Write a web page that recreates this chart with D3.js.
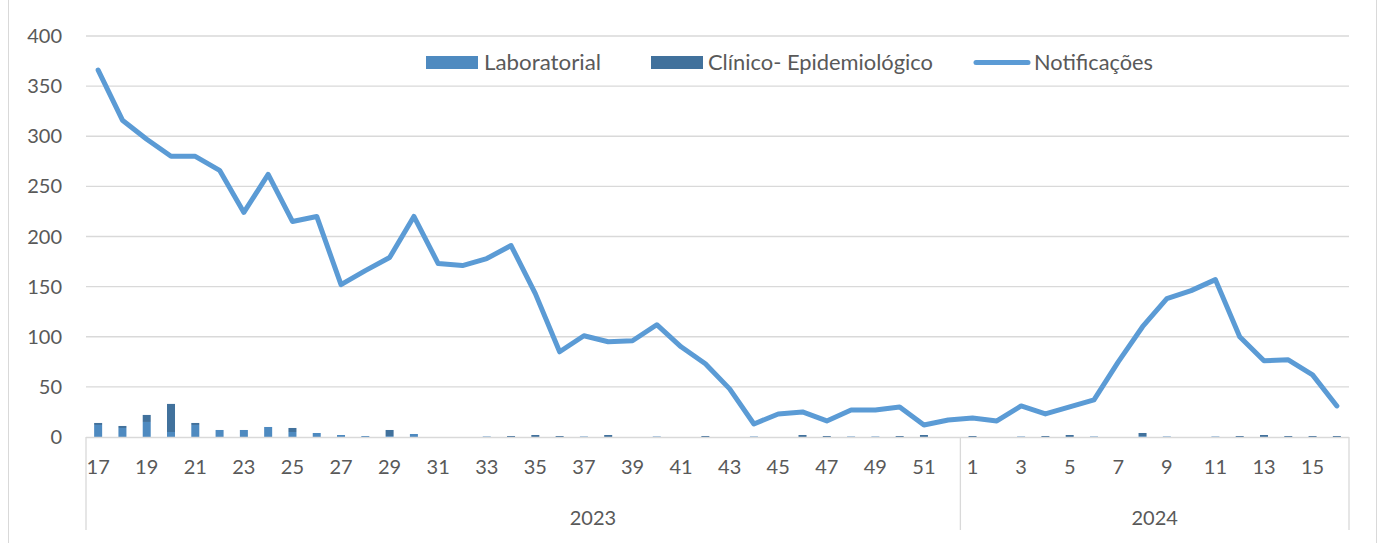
<!DOCTYPE html>
<html><head><meta charset="utf-8">
<script src="https://cdn.jsdelivr.net/npm/d3@7/dist/d3.min.js"></script>
<style>
html,body{margin:0;padding:0;background:#fff;}
svg text{font-family:Lato,"Open Sans",sans-serif;fill:#595959;}
</style></head>
<body>
<svg id="c" width="1379" height="543"></svg>
<script>
// ---- data ----
const weeks2023 = [17,18,19,20,21,22,23,24,25,26,27,28,29,30,31,32,33,34,35,36,37,38,39,40,41,42,43,44,45,46,47,48,49,50,51,52];
const weeks2024 = [1,2,3,4,5,6,7,8,9,10,11,12,13,14,15,16];
const years = ["2023","2024"];
const notificacoes = [366,316,297,280,280,266,224,262,215,220,152,166,179,220,173,171,178,191,143,85,101,95,96,112,90,73,48,13,23,25,16,27,27,30,12,17,
                      19,16,31,23,30,37,75,110,138,146,157,100,76,77,62,31];
const laboratorial = [12,9,15,5,12,7,7,10,5,4,2,1,1,3,0,0,0.5,0,0,0,0.5,0,0,0.5,0,0,0,0.5,0,0,0,0.5,0.5,0,0,0,
                      0,0,0.5,0,0,0.5,0,1,0.5,0,0.5,0,0,0,0,0];
const clinico = [2,2,7,28,2,0,0,0,4,0,0,0,6,0,0,0,0,1,2,1,0,2,0,0,0,1,0,0,0,2,1,0,0,1,2,0,
                 1,0,0,1,2,0,0,3,0,0,0,1,2,1,1,1];
const yTicks = [0,50,100,150,200,250,300,350,400];
const seriesNames = ["Laboratorial","Clínico- Epidemiológico","Notificações"];

// ---- build categories ----
const cats = [];
weeks2023.forEach(w => cats.push({year:"2023", week:w, key:"2023-"+w}));
weeks2024.forEach(w => cats.push({year:"2024", week:w, key:"2024-"+w}));
cats.forEach((c,i) => { c.lab = laboratorial[i]; c.cli = clinico[i]; c.not = notificacoes[i]; });

const svg = d3.select("#c");
const L = 86, R = 1349, T = 36, B = 437;
const x = d3.scaleBand().domain(cats.map(c=>c.key)).range([L,R]).padding(0);
const y = d3.scaleLinear().domain([0,400]).range([B,T]);
const bw = x.bandwidth();

// chart border (left/right)
svg.append("line").attr("x1",8.5).attr("x2",8.5).attr("y1",0).attr("y2",543).attr("stroke","#d9d9d9").attr("stroke-width",1);
svg.append("line").attr("x1",1376.5).attr("x2",1376.5).attr("y1",0).attr("y2",543).attr("stroke","#d9d9d9").attr("stroke-width",1);

// gridlines
svg.append("g").selectAll("line").data(yTicks.filter(d=>d>0)).join("line")
  .attr("x1",L).attr("x2",R).attr("y1",d=>y(d)).attr("y2",d=>y(d))
  .attr("stroke","#d9d9d9").attr("stroke-width",1.3);

// y axis labels
svg.append("g").selectAll("text").data(yTicks).join("text")
  .attr("x",62).attr("y",d=>y(d)).attr("dy","0.35em").attr("text-anchor","end")
  .style("font-size","20px").text(d=>d);

// bars (stacked)
const barW = 8;
const stack = d3.stack().keys(["lab","cli"])(cats);
const colors = {lab:"#4E8AC0", cli:"#41719C"};
svg.append("g").selectAll("g").data(stack).join("g")
  .attr("fill",s=>colors[s.key])
  .selectAll("rect").data(s=>s).join("rect")
  .attr("x",d=>x(d.data.key)+bw/2-barW/2).attr("width",barW)
  .attr("y",d=>y(d[1])).attr("height",d=>Math.max(0,y(d[0])-y(d[1])));

// x axis line
svg.append("line").attr("x1",L).attr("x2",R).attr("y1",B+0.5).attr("y2",B+0.5).attr("stroke","#d9d9d9").attr("stroke-width",1.3);
// separators
const sepX = [L, x("2024-1"), R];
svg.append("g").selectAll("line").data(sepX).join("line")
  .attr("x1",d=>d).attr("x2",d=>d).attr("y1",B).attr("y2",530)
  .attr("stroke","#d9d9d9").attr("stroke-width",1.3);

// week labels (every other)
svg.append("g").selectAll("text").data(cats.filter(c=> c.week%2===1)).join("text")
  .attr("x",d=>x(d.key)+bw/2).attr("y",474).attr("text-anchor","middle")
  .style("font-size","20px").text(d=>d.week);

// year labels
const yearPos = {"2023": x("2023-37")+bw*0.87, "2024": (x("2024-1")+R)/2};
svg.append("g").selectAll("text").data(years).join("text")
  .attr("x",d=>yearPos[d]).attr("y",525).attr("text-anchor","middle")
  .style("font-size","20px").text(d=>d);

// line
const line = d3.line().x(d=>x(d.key)+bw/2).y(d=>y(d.not));
svg.append("path").datum(cats).attr("d",line).attr("fill","none")
  .attr("stroke","#5B9BD5").attr("stroke-width",5).attr("stroke-linejoin","round").attr("stroke-linecap","round");

// legend
const lg = svg.append("g");
lg.append("rect").attr("x",426).attr("y",56).attr("width",52).attr("height",13).attr("fill",colors.lab);
lg.append("text").attr("x",484).attr("y",70).attr("textLength",117).attr("lengthAdjust","spacingAndGlyphs").style("font-size","21px").text(seriesNames[0]);
lg.append("rect").attr("x",651).attr("y",56).attr("width",52).attr("height",13).attr("fill",colors.cli);
lg.append("text").attr("x",708).attr("y",70).attr("textLength",225).attr("lengthAdjust","spacingAndGlyphs").style("font-size","21px").text(seriesNames[1]);
lg.append("line").attr("x1",976).attr("x2",1028).attr("y1",62.5).attr("y2",62.5).attr("stroke","#5B9BD5").attr("stroke-width",5).attr("stroke-linecap","round");
lg.append("text").attr("x",1034).attr("y",70).attr("textLength",119).attr("lengthAdjust","spacingAndGlyphs").style("font-size","21px").text(seriesNames[2]);
</script>
</body></html>
